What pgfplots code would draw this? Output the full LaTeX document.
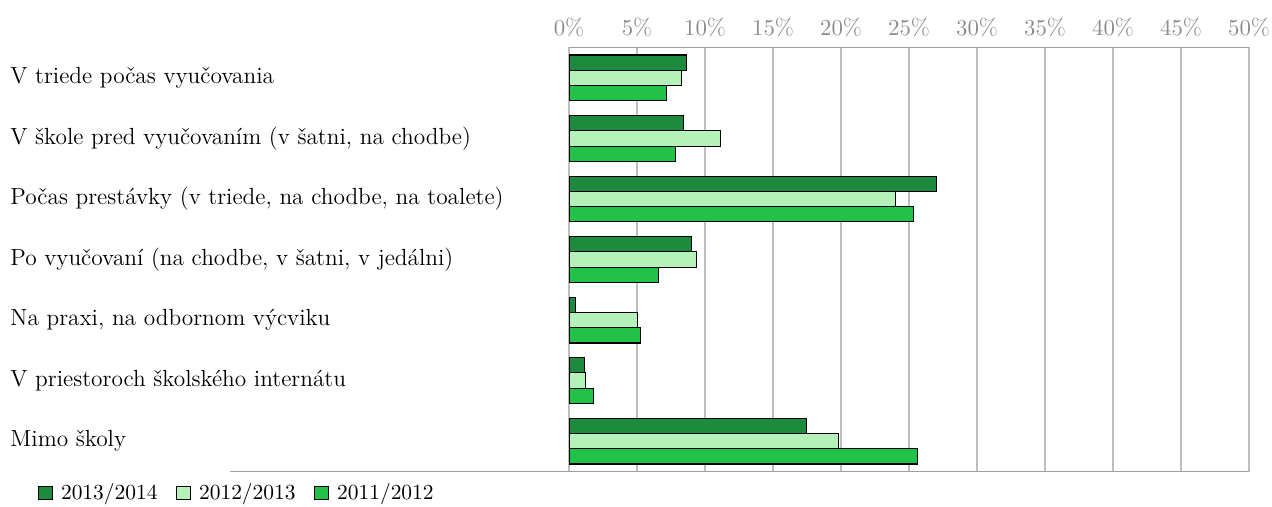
\documentclass[border=0pt]{standalone}
\usepackage{pgfplots}
\pgfplotsset{compat=1.18}
\definecolor{cdark}{RGB}{29,138,62}
\definecolor{clight}{RGB}{180,242,186}
\definecolor{cmid}{RGB}{34,193,72}
\definecolor{cgrid}{RGB}{190,190,190}
\definecolor{cline}{RGB}{160,160,160}
\definecolor{ctick}{RGB}{140,140,140}
\begin{document}
\fontsize{11.2}{13.4}\selectfont
\begin{tikzpicture}
\begin{axis}[
    scale only axis,
    width=326.4pt, height=203.7pt,
    xmin=0, xmax=50,
    ymin=-0.507, ymax=6.507,
    y dir=reverse,
    xtick={0,5,...,50},
    xticklabel={\pgfmathprintnumber{\tick}\%},
    xticklabel pos=upper,
    xticklabel style={text=ctick, yshift=1.2pt},
    ytick={0,...,6},
    yticklabels={V triede počas vyučovania,
        V škole pred vyučovaním (v šatni{,} na chodbe),
        Počas prestávky (v triede{,} na chodbe{,} na toalete),
        Po vyučovaní (na chodbe{,} v šatni{,} v jedálni),
        Na praxi{,} na odbornom výcviku,
        V priestoroch školského internátu,
        Mimo školy},
    yticklabel style={anchor=west, xshift=-272pt},
    major tick length=0pt,
    xmajorgrids,
    grid style={cgrid, line width=0.7pt},
    axis line style={draw=none},
    xbar,
    bar width=0.253,
    legend columns=3,
    legend style={draw=none, fill=none, inner sep=0pt,
        font=\fontsize{10.3}{12.4}\selectfont,
        at={(axis description cs:0,0)}, anchor=west,
        xshift=-254.9pt, yshift=-10.2pt,
        /tikz/every odd column/.append style={column sep=1.8pt},
        /tikz/every even column/.append style={column sep=7pt}},
    legend image code/.code={\draw[#1, draw=black] (0pt,-3.2pt) rectangle (6.6pt,3.2pt);},
    every axis plot/.append style={draw=black, line width=0.5pt},
]
\addplot[fill=cdark, bar shift=-0.253] coordinates {
    (8.66,0) (8.44,1) (27.0,2) (9.03,3) (0.49,4) (1.15,5) (17.45,6)
};
\addlegendentry{2013/2014}
\addplot[fill=clight, bar shift=0] coordinates {
    (8.25,0) (11.13,1) (23.98,2) (9.35,3) (5.04,4) (1.22,5) (19.8,6)
};
\addlegendentry{2012/2013}
\addplot[fill=cmid, bar shift=0.253] coordinates {
    (7.2,0) (7.85,1) (25.33,2) (6.58,3) (5.26,4) (1.83,5) (25.6,6)
};
\addlegendentry{2011/2012}
\end{axis}
\draw[cline, line width=0.7pt] (current axis.north west) -- (current axis.north east);
\draw[cline, line width=0.7pt] ([xshift=-162.7pt]current axis.south west) -- (current axis.south east);
\pgfresetboundingbox
\path ([shift={(-273.1pt,-16.5pt)}]current axis.south west) rectangle ([shift={(11pt,22.7pt)}]current axis.north east);
\end{tikzpicture}
\end{document}
